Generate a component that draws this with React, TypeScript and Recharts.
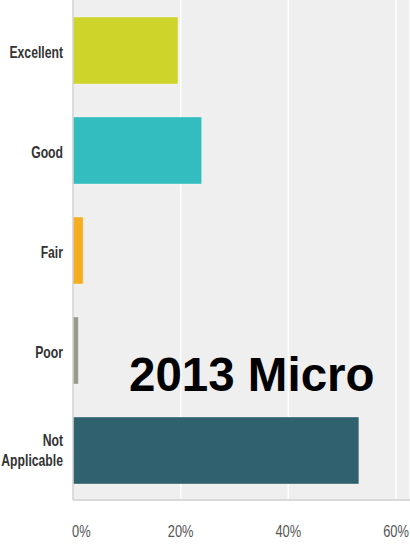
import React from "react";
import { BarChart, Bar, XAxis, YAxis, CartesianGrid, Cell } from "recharts";

const categories = ["Excellent", "Good", "Fair", "Poor", "Not Applicable"];
const percentages = [19.5, 23.9, 1.9, 1.0, 53.1];
const barColors = ["#cfd42a", "#33bdbf", "#f5ae22", "#989a87", "#30616e"];
const xTicks = [0, 20, 40, 60];
const overlayTitle = "2013 Micro";

const data = categories.map((name, i) => ({ name, value: percentages[i] }));

// eslint-disable-next-line @typescript-eslint/no-explicit-any
const CategoryTick = ({ y, payload }: any) => {
	const words: string[] = payload.value === "Not Applicable" ? ["Not", "Applicable"] : [payload.value];
	const first = words.length > 1 ? -4 : 7.5;
	return (
		<g transform={`translate(63,${y}) scale(0.74,1)`}>
			{words.map((w, i) => (
				<text
					key={w}
					x={0}
					y={first + i * 20}
					textAnchor="end"
					fill="#333"
					fontSize={16.5}
					fontWeight="bold"
					fontFamily="'Liberation Sans', Arial, sans-serif"
				>
					{w}
				</text>
			))}
		</g>
	);
};

// eslint-disable-next-line @typescript-eslint/no-explicit-any
const PercentTick = ({ x, y, payload }: any) => (
	<g transform={`translate(${payload.value === 0 ? x - 1 : x},${y + 37}) scale(0.78,1)`}>
		<text
			x={0}
			y={0}
			textAnchor={payload.value === 0 ? "start" : "middle"}
			fill="#555"
			fontSize={16.5}
			fontFamily="'Liberation Sans', Arial, sans-serif"
		>
			{`${payload.value}%`}
		</text>
	</g>
);

export default function App() {
	return (
		<div style={{ position: "absolute", left: 0, top: 0, width: 410, height: 544, background: "#fff" }}>
			<BarChart
				width={410}
				height={544}
				data={data}
				layout="vertical"
				margin={{ top: 0, right: 0, bottom: 0, left: 0 }}
			>
				<CartesianGrid horizontal={false} stroke="#ffffff" strokeWidth={1.5} fill="#efefef" />
				<XAxis
					type="number"
					domain={[0, 62.6]}
					ticks={xTicks}
					allowDataOverflow
					height={44}
					tickLine={false}
					tickSize={0}
					tickMargin={0}
					axisLine={{ stroke: "#dadada", strokeWidth: 2 }}
					tick={<PercentTick />}
				/>
				<YAxis
					type="category"
					dataKey="name"
					width={73}
					tickLine={false}
					tickSize={0}
					axisLine={{ stroke: "#d0d0d0", strokeWidth: 1.5 }}
					tick={<CategoryTick />}
				/>
				<Bar dataKey="value" barSize={67} isAnimationActive={false}>
					{data.map((entry, index) => (
						<Cell
							key={`cell-${entry.name}`}
							fill={barColors[index]}
							stroke="rgba(255,255,255,0.35)"
							strokeWidth={1}
						/>
					))}
				</Bar>
			</BarChart>
			<svg
				width={410}
				height={544}
				style={{ position: "absolute", left: 0, top: 0, pointerEvents: "none" }}
			>
				<text
					x={129}
					y={391}
					fill="#000"
					fontSize={47.5}
					fontWeight="bold"
					fontFamily="'Liberation Sans', Arial, sans-serif"
				>
					{overlayTitle}
				</text>
			</svg>
		</div>
	);
}
